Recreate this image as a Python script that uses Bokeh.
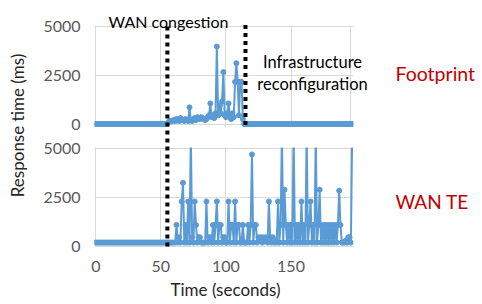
from bokeh.plotting import figure
from bokeh.models import Range1d, FixedTicker, Label, BoxAnnotation, Arrow, CustomJSTickFormatter, Title
from bokeh.embed import file_html
from bokeh.resources import INLINE

# ---------------- data ----------------
time_s = list(range(198))

footprint_ms = [
    50, 50, 50, 50, 50, 50, 50, 50, 50, 50,
    50, 50, 50, 50, 50, 50, 50, 50, 50, 50,
    50, 50, 50, 50, 50, 50, 50, 50, 50, 50,
    50, 50, 50, 50, 50, 50, 50, 50, 50, 50,
    50, 50, 50, 50, 50, 50, 50, 50, 50, 50,
    50, 50, 50, 50, 50, 50, 150, 200, 180, 220,
    250, 200, 300, 250, 200, 350, 300, 250, 200, 300,
    250, 200, 900, 250, 200, 300, 350, 250, 400, 350,
    300, 400, 350, 300, 250, 300, 400, 500, 1100, 400,
    500, 350, 600, 4000, 500, 1000, 600, 1200, 2700, 500,
    400, 600, 1100, 400, 300, 600, 400, 2200, 3150, 2200,
    500, 2200, 2200, 300, 50, 50, 50, 50, 50, 50,
    50, 50, 50, 50, 50, 50, 50, 50, 50, 50,
    50, 50, 50, 50, 50, 50, 50, 50, 50, 50,
    50, 50, 50, 50, 50, 50, 50, 50, 50, 50,
    50, 50, 50, 50, 50, 50, 50, 50, 50, 50,
    50, 50, 50, 50, 50, 50, 50, 50, 50, 50,
    50, 50, 50, 50, 50, 50, 50, 50, 50, 50,
    50, 50, 50, 50, 50, 50, 50, 50, 50, 50,
    50, 50, 50, 50, 50, 50, 50, 50,
]

# values above 5000 run off the top of the panel in the original
wan_te_ms = [
    200, 200, 200, 200, 200, 200, 200, 200, 200, 200,
    200, 200, 200, 200, 200, 200, 200, 200, 200, 200,
    200, 200, 200, 200, 200, 200, 200, 200, 200, 200,
    200, 200, 200, 200, 200, 200, 200, 200, 200, 200,
    200, 200, 200, 200, 200, 200, 200, 200, 200, 200,
    200, 200, 200, 200, 200, 200, 200, 200, 200, 200,
    200, 200, 1100, 200, 470, 200, 2300, 3250, 200, 1100,
    200, 2300, 200, 5800, 470, 200, 2300, 1100, 200, 470,
    470, 200, 200, 200, 200, 2300, 200, 470, 470, 200,
    1100, 200, 1100, 2300, 200, 1100, 1100, 200, 470, 470,
    200, 200, 2300, 200, 1100, 1100, 200, 2300, 200, 1100,
    1100, 200, 200, 1100, 200, 200, 200, 1100, 200, 1100,
    4700, 200, 1100, 1100, 200, 470, 300, 470, 200, 470,
    300, 470, 200, 2300, 470, 200, 470, 200, 300, 200,
    2300, 200, 1100, 5800, 200, 2900, 1100, 200, 1100, 200,
    1100, 200, 5800, 200, 1100, 200, 1100, 200, 2300, 200,
    1100, 200, 5800, 200, 1100, 2300, 200, 1100, 200, 5800,
    200, 1100, 2900, 200, 1100, 200, 1100, 200, 1100, 200,
    1100, 200, 1100, 200, 1100, 200, 1100, 2850, 1100, 200,
    200, 200, 300, 200, 470, 470, 200, 5800,
]

x_ticks = [0, 50, 100, 150]
y_ticks = [0, 2500, 5000]
x_end_s = 198
congestion_start_s = 55
reconfiguration_s = 115

# ---------------- layout constants (canvas pixels) ----------------
W, H = 482, 304
FL, FT = 94, 0                 # frame left / top
FW, FH = W - FL, 250           # frame reaches the right edge; bottom at 250
PLOT_R = 353                   # right edge of the chart area
X0 = -1
SPP = (x_end_s - X0) / (PLOT_R - FL)       # seconds per pixel
X1 = X0 + FW * SPP
UPP = 5000 / 98                            # ms per pixel in each panel
ZERO_PX = 246                              # lower panel zero line
Y0 = -(FT + FH - ZERO_PX) * UPP
Y1 = (ZERO_PX - FT) * UPP
OFFSET = 6200                              # upper panel zero in lower-panel units
BLUE = "#5B9BD5"
FONT = "Lato"

def dx(px):
    return X0 + (px - FL) * SPP

def dy(py):
    return (ZERO_PX - py) * UPP

p = figure(width=W, height=H, x_range=Range1d(X0, X1), y_range=Range1d(Y0, Y1),
           output_backend="svg", toolbar_location=None, title=None,
           min_border_left=FL, min_border_right=0,
           min_border_top=FT, min_border_bottom=H - FT - FH)
p.extra_y_ranges = {"top": Range1d(Y0 - OFFSET, Y1 - OFFSET)}
p.outline_line_color = None
p.background_fill_color = "white"
p.border_fill_color = "white"

all_y_ticks = y_ticks + [t + OFFSET for t in y_ticks]

p.yaxis.ticker = FixedTicker(ticks=all_y_ticks)
p.yaxis.formatter = CustomJSTickFormatter(args=dict(off=OFFSET),
                                          code="return String(tick >= off ? tick - off : tick)")
p.xaxis.ticker = FixedTicker(ticks=x_ticks)
for ax in (p.xaxis, p.yaxis):
    ax.axis_line_color = None
    ax.major_tick_line_color = None
    ax.minor_tick_line_color = None
    ax.major_tick_out = 0
    ax.major_label_text_font = FONT
    ax.major_label_text_font_size = "16px"
    ax.major_label_text_color = "#595959"
    ax.axis_label_text_font = FONT
    ax.axis_label_text_font_size = "17px"
    ax.axis_label_text_font_style = "normal"
    ax.axis_label_text_color = "#262626"
p.yaxis.major_label_standoff = 14
p.xaxis.major_label_standoff = 10
p.yaxis.axis_label = "Response time (ms)"
p.yaxis.axis_label_standoff = 12

# x-axis title, centred under the chart area (not the whole frame)
p.add_layout(Title(text="Time (seconds)", align="left", offset=76, standoff=4,
                   text_font=FONT, text_font_size="17px", text_font_style="normal",
                   text_color="#262626"), "below")

p.xgrid.ticker = FixedTicker(ticks=x_ticks + [196])
p.ygrid.ticker = FixedTicker(ticks=all_y_ticks)
for g in (p.xgrid, p.ygrid):
    g.grid_line_color = "#D9D9D9"
    g.grid_line_width = 1

# series
p.line(time_s, footprint_ms, y_range_name="top", line_color=BLUE, line_width=2)
p.scatter(time_s, footprint_ms, y_range_name="top", size=5, color=BLUE)
p.line(time_s, wan_te_ms, line_color=BLUE, line_width=2)
p.scatter(time_s, wan_te_ms, size=5, color=BLUE)

# blank areas around / between the two panels
white = dict(fill_color="white", fill_alpha=1, line_color=None)
p.add_layout(BoxAnnotation(bottom=5000 + UPP, top=OFFSET - 2 * UPP, **white))
p.add_layout(BoxAnnotation(top=-0.6 * UPP, **white))
p.add_layout(BoxAnnotation(bottom=OFFSET + 5000 + UPP, **white))
p.add_layout(BoxAnnotation(left=x_end_s, **white))

# dotted event markers
dots = dict(line_color="black", line_width=4, line_dash="4 4", start=None, end=None)
p.add_layout(Arrow(x_start=congestion_start_s, y_start=0,
                   x_end=congestion_start_s, y_end=OFFSET + 5000 + 2.5 * UPP, **dots))
p.add_layout(Arrow(x_start=reconfiguration_s, y_start=OFFSET,
                   x_end=reconfiguration_s, y_end=OFFSET + 5000 + 4.5 * UPP, **dots))

def add_text(text, cx, cy, size, color="black", align="center"):
    p.add_layout(Label(x=dx(cx), y=dy(cy), text=text, text_font=FONT,
                       text_font_size=size, text_color=color, text_align=align,
                       text_baseline="alphabetic"))

add_text("WAN congestion", 168, 21, "16px")
add_text("Infrastructure", 312, 61, "16.5px")
add_text("reconfiguration", 312, 83, "16.5px")
add_text("Footprint", 395, 73, "19.5px", color="#C00000", align="left")
add_text("WAN TE", 395, 200.5, "19px", color="#C00000", align="left")

open("out.html", "w").write(file_html(p, INLINE))
